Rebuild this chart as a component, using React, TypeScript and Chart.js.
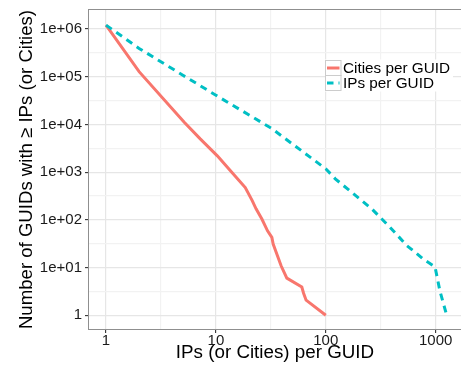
import React, { useEffect, useRef } from "react";
import { Chart, registerables } from "chart.js";

Chart.register(...registerables);

// ---- data ----
const cityX = [1, 2, 5.15, 7.2, 10.3, 13.5, 18.5, 21.4, 23.2, 26.2, 29.5, 32.3, 33.2, 35.9, 39.2, 44.2, 60.5, 62.8, 66.2, 100];
const cityY = [1.21e6, 1.28e5, 1.11e4, 4980, 2200, 1080, 475, 254, 170, 104, 59, 43, 31, 19, 10.9, 6, 3.9, 2.9, 2.07, 1];

const ipX = [1, 2, 5, 10, 32, 100, 122, 262, 384, 545, 649, 771, 986, 1094, 1259];
const ipY = [1.21e6, 3.93e5, 1.08e5, 4.1e4, 8300, 1175, 725, 170, 70, 29, 21, 15, 10.4, 3.2, 1];

const seriesNames = ["Cities per GUID", "IPs per GUID"];
const seriesColors = ["#F8766D", "#00BFC4"];

const xTickValues = [1, 10, 100, 1000];
const xTickLabels = ["1", "10", "100", "1000"];
const xMinorValues = [Math.pow(10, 0.5), Math.pow(10, 1.5), Math.pow(10, 2.5)];

const yTickValues = [1, 10, 100, 1000, 10000, 100000, 1000000];
const yTickLabels = ["1", "1e+01", "1e+02", "1e+03", "1e+04", "1e+05", "1e+06"];
const yMinorValues = [0.5, 1.5, 2.5, 3.5, 4.5, 5.5].map((e) => Math.pow(10, e));

const xRange = [0.705, 1700];
const yRange = [0.515, 2.51e6];

const xTitle = "IPs (or Cities) per GUID";
const yTitle = "Number of GUIDs with \u2265 IPs (or Cities)";

const FONT = '"Liberation Sans", Arial, Helvetica, sans-serif';

const near = (a: number, b: number) => Math.abs(Math.log10(a) - Math.log10(b)) < 1e-6;
const labelFor = (vals: number[], labels: string[], v: number) => {
  const i = vals.findIndex((t) => near(t, v));
  return i >= 0 ? labels[i] : "";
};
const isMajor = (vals: number[], v: number | undefined) =>
  v !== undefined && vals.some((t) => near(t, v));

const framePlugin = {
  id: "ggFrame",
  afterDatasetsDraw(chart: any) {
    const { ctx, chartArea } = chart;
    const l = Math.round(chartArea.left);
    const t = Math.round(chartArea.top);
    const b = Math.round(chartArea.bottom);
    ctx.save();
    ctx.fillStyle = "#8F8F8F";
    ctx.fillRect(l - 1, t - 1, chart.width - l + 1, 1);
    ctx.fillRect(l - 1, t - 1, 1, b - t + 2);
    ctx.fillRect(l - 1, b, chart.width - l + 1, 1);
    ctx.restore();
  },
};

const legendPlugin = {
  id: "ggLegend",
  afterDraw(chart: any) {
    const ctx = chart.ctx;
    const left = 325;
    const top = 60.5;
    const kw = 15.5;
    const kh = 15;
    ctx.save();
    ctx.fillStyle = "#FFFFFF";
    ctx.fillRect(left, top - 1, 453 - left, kh * 2 + 2);
    seriesNames.forEach((name, i) => {
      const y0 = top + i * kh;
      ctx.strokeStyle = "#CCCCCC";
      ctx.lineWidth = 1;
      ctx.setLineDash([]);
      ctx.strokeRect(left + 0.5, y0, kw, kh);
      ctx.strokeStyle = seriesColors[i];
      ctx.lineWidth = 3;
      ctx.lineCap = "butt";
      ctx.setLineDash(i === 1 ? [6.5, 5] : []);
      ctx.beginPath();
      ctx.moveTo(left + 2, y0 + kh / 2);
      ctx.lineTo(left + kw - 1, y0 + kh / 2);
      ctx.stroke();
      ctx.setLineDash([]);
      ctx.fillStyle = "#000000";
      ctx.font = `15.3px ${FONT}`;
      ctx.textBaseline = "middle";
      ctx.textAlign = "left";
      ctx.fillText(name, left + kw + 2.5, y0 + kh / 2 + 0.5);
    });
    ctx.restore();
  },
};

export default function App() {
  const canvasRef = useRef<HTMLCanvasElement | null>(null);

  useEffect(() => {
    const canvas = canvasRef.current;
    if (!canvas) return;
    Chart.defaults.font.family = FONT;

    const gridColor = (vals: number[]) => (c: any) =>
      isMajor(vals, c.tick?.value) ? "#E6E6E6" : "#F2F2F2";
    const tickColor = (vals: number[]) => (c: any) =>
      isMajor(vals, c.tick?.value) ? "#333333" : "rgba(0,0,0,0)";

    const chart = new Chart(canvas, {
      type: "scatter",
      data: {
        datasets: [
          {
            label: seriesNames[0],
            data: cityX.map((x, i) => ({ x, y: cityY[i] })),
            showLine: true,
            borderColor: seriesColors[0],
            backgroundColor: seriesColors[0],
            borderWidth: 3,
            pointRadius: 0,
            tension: 0,
            order: 1,
          },
          {
            label: seriesNames[1],
            data: ipX.map((x, i) => ({ x, y: ipY[i] })),
            showLine: true,
            borderColor: seriesColors[1],
            backgroundColor: seriesColors[1],
            borderWidth: 3,
            borderDash: [7, 5.5],
            borderCapStyle: "butt",
            pointRadius: 0,
            tension: 0,
            order: 0,
          },
        ],
      },
      options: {
        responsive: false,
        maintainAspectRatio: false,
        devicePixelRatio: 1,
        animation: false,
        events: [],
        layout: { padding: { left: 0, right: 0, top: 10, bottom: 0 } },
        plugins: {
          legend: { display: false },
          tooltip: { enabled: false },
        },
        scales: {
          x: {
            type: "logarithmic",
            min: xRange[0],
            max: xRange[1],
            afterBuildTicks: (s: any) => {
              s.ticks = [...xTickValues, ...xMinorValues]
                .sort((a, b) => a - b)
                .map((v) => ({ value: v }));
            },
            afterFit: (s: any) => {
              s.height = 40;
              s.paddingLeft = 0;
              s.paddingRight = 0;
            },
            ticks: {
              autoSkip: false,
              maxRotation: 0,
              padding: 0,
              color: "#1A1A1A",
              font: { size: 15, lineHeight: 1.1 },
              callback: (v: any) => labelFor(xTickValues, xTickLabels, Number(v)),
            },
            grid: {
              color: gridColor(xTickValues),
              lineWidth: 1.2,
              tickColor: tickColor(xTickValues),
              tickLength: 4,
              tickWidth: 1.1,
            },
            border: { display: false },
            title: {
              display: true,
              text: xTitle,
              color: "#000000",
              font: { size: 18.8 },
              padding: { top: 0, bottom: 5.2 },
            },
          },
          y: {
            type: "logarithmic",
            min: yRange[0],
            max: yRange[1],
            afterBuildTicks: (s: any) => {
              s.ticks = [...yTickValues, ...yMinorValues]
                .sort((a, b) => a - b)
                .map((v) => ({ value: v }));
            },
            afterFit: (s: any) => {
              s.width = 89;
              s.paddingTop = 0;
              s.paddingBottom = 0;
            },
            ticks: {
              autoSkip: false,
              padding: 3,
              color: "#1A1A1A",
              font: { size: 15 },
              callback: (v: any) => labelFor(yTickValues, yTickLabels, Number(v)),
            },
            grid: {
              color: gridColor(yTickValues),
              lineWidth: 1.2,
              tickColor: tickColor(yTickValues),
              tickLength: 4,
              tickWidth: 1.1,
            },
            border: { display: false },
            title: {
              display: true,
              text: yTitle,
              color: "#000000",
              font: { size: 18.6 },
              padding: { top: 15.7, bottom: 0 },
            },
          },
        },
      },
      plugins: [framePlugin, legendPlugin],
    } as any);

    return () => chart.destroy();
  }, []);

  return (
    <div style={{ position: "absolute", left: 0, top: 0, width: 461, height: 369, background: "#fff" }}>
      <canvas ref={canvasRef} width={461} height={369} style={{ display: "block" }} />
    </div>
  );
}
